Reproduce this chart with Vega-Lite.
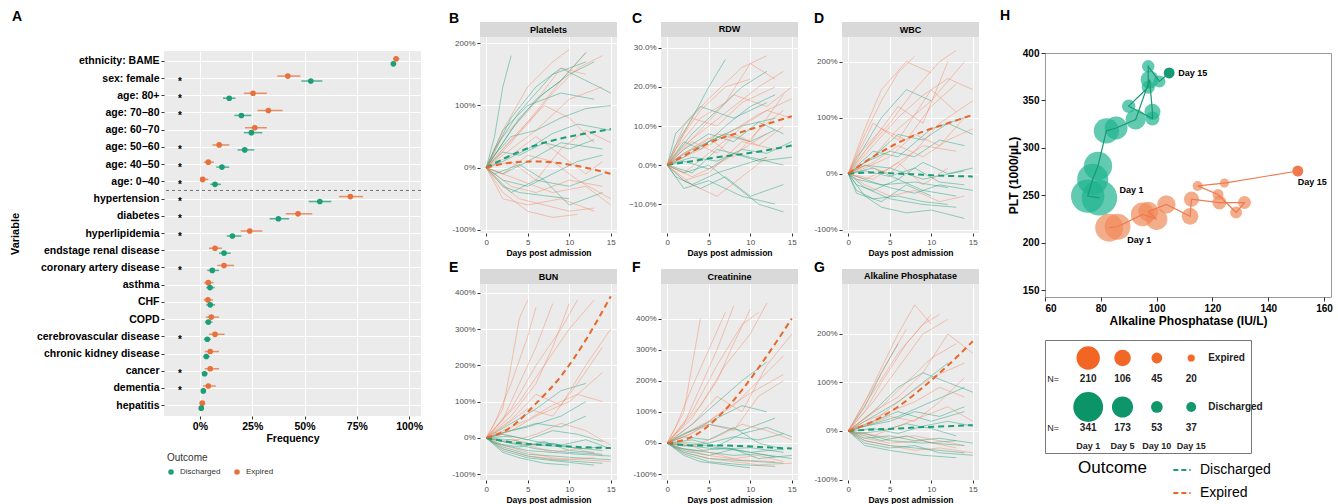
{
"$schema":"https://vega.github.io/schema/vega-lite/v6.json",
"background":"white",
"padding":{"left":9,"top":8,"right":0,"bottom":0},
"config":{
 "font":"Liberation Sans",
 "view":{"fill":"#ebebeb","stroke":null},
 "axis":{"domain":false,"gridColor":"#ffffff","gridWidth":1,"tickColor":"#333333","tickSize":3,"labelColor":"#4d4d4d","labelFontSize":8,"titleFontSize":8.5,"titleFontWeight":"bold","titleColor":"#000000","labelPadding":2,"titlePadding":2},
 "title":{"fontSize":14,"fontWeight":"bold","anchor":"start","frame":"group","offset":0,"baseline":"alphabetic","color":"#000000"}
},
"datasets":{
"freq":[
{"v":"ethnicity: BAME","o":"Expired","f":93.8,"lo":92.3,"hi":95.4,"s":0},{"v":"ethnicity: BAME","o":"Discharged","f":92.5,"lo":91.4,"hi":93.6,"s":0},
{"v":"sex: female","o":"Expired","f":42,"lo":37,"hi":48,"s":1},{"v":"sex: female","o":"Discharged","f":53,"lo":48.5,"hi":58.5,"s":1},
{"v":"age: 80+","o":"Expired","f":25.4,"lo":21,"hi":32,"s":1},{"v":"age: 80+","o":"Discharged","f":14,"lo":11,"hi":17,"s":1},
{"v":"age: 70−80","o":"Expired","f":32.7,"lo":27.5,"hi":39.5,"s":1},{"v":"age: 70−80","o":"Discharged","f":19.8,"lo":16.5,"hi":24.5,"s":1},
{"v":"age: 60−70","o":"Expired","f":26.2,"lo":21.5,"hi":32,"s":0},{"v":"age: 60−70","o":"Discharged","f":24.6,"lo":21,"hi":29.8,"s":0},
{"v":"age: 50−60","o":"Expired","f":9.2,"lo":6,"hi":14,"s":1},{"v":"age: 50−60","o":"Discharged","f":21.4,"lo":18,"hi":26,"s":1},
{"v":"age: 40−50","o":"Expired","f":4,"lo":2,"hi":6.7,"s":1},{"v":"age: 40−50","o":"Discharged","f":10.5,"lo":7.8,"hi":14,"s":1},
{"v":"age: 0−40","o":"Expired","f":1.3,"lo":0,"hi":4,"s":1},{"v":"age: 0−40","o":"Discharged","f":7.2,"lo":5,"hi":10,"s":1},
{"v":"hypertension","o":"Expired","f":71.9,"lo":66.5,"hi":78,"s":1},{"v":"hypertension","o":"Discharged","f":57.3,"lo":52,"hi":62.8,"s":1},
{"v":"diabetes","o":"Expired","f":46.9,"lo":41,"hi":53.7,"s":1},{"v":"diabetes","o":"Discharged","f":37.5,"lo":33.3,"hi":42.6,"s":1},
{"v":"hyperlipidemia","o":"Expired","f":23.8,"lo":19.5,"hi":29.8,"s":1},{"v":"hyperlipidemia","o":"Discharged","f":15.5,"lo":12.8,"hi":19.8,"s":1},
{"v":"endstage renal disease","o":"Expired","f":7.2,"lo":4.3,"hi":10.5,"s":0},{"v":"endstage renal disease","o":"Discharged","f":11.5,"lo":9.1,"hi":14.7,"s":0},
{"v":"coronary artery disease","o":"Expired","f":11.5,"lo":8.3,"hi":16.3,"s":1},{"v":"coronary artery disease","o":"Discharged","f":5.9,"lo":3.5,"hi":9.1,"s":1},
{"v":"asthma","o":"Expired","f":4,"lo":2,"hi":6.5,"s":0},{"v":"asthma","o":"Discharged","f":4.8,"lo":3,"hi":7,"s":0},
{"v":"CHF","o":"Expired","f":3.8,"lo":1.8,"hi":6.2,"s":0},{"v":"CHF","o":"Discharged","f":4.9,"lo":3,"hi":7.2,"s":0},
{"v":"COPD","o":"Expired","f":5.4,"lo":2.8,"hi":9.1,"s":0},{"v":"COPD","o":"Discharged","f":4,"lo":2.4,"hi":6,"s":0},
{"v":"cerebrovascular disease","o":"Expired","f":7.2,"lo":4.3,"hi":11.8,"s":1},{"v":"cerebrovascular disease","o":"Discharged","f":3.5,"lo":2,"hi":5.2,"s":1},
{"v":"chronic kidney disease","o":"Expired","f":4.9,"lo":2.3,"hi":9.1,"s":0},{"v":"chronic kidney disease","o":"Discharged","f":3,"lo":1.7,"hi":4.7,"s":0},
{"v":"cancer","o":"Expired","f":4.9,"lo":2.3,"hi":9.1,"s":1},{"v":"cancer","o":"Discharged","f":2.2,"lo":1.1,"hi":3.6,"s":1},
{"v":"dementia","o":"Expired","f":4,"lo":1.5,"hi":7.5,"s":1},{"v":"dementia","o":"Discharged","f":1.6,"lo":0.8,"hi":2.8,"s":1},
{"v":"hepatitis","o":"Expired","f":1.1,"lo":0,"hi":2.5,"s":0},{"v":"hepatitis","o":"Discharged","f":0.6,"lo":0,"hi":1.5,"s":0}
],
"sB":[
{"o":"D","i":1,"d":0,"v":0},{"o":"D","i":1,"d":2,"v":40},{"o":"D","i":1,"d":4,"v":80},{"o":"D","i":1,"d":7,"v":120},{"o":"D","i":1,"d":10,"v":150},{"o":"D","i":1,"d":13,"v":170},
{"o":"D","i":2,"d":0,"v":0},{"o":"D","i":2,"d":3,"v":60},{"o":"D","i":2,"d":6,"v":110},{"o":"D","i":2,"d":9,"v":140},{"o":"D","i":2,"d":12,"v":185},
{"o":"D","i":3,"d":0,"v":0},{"o":"D","i":3,"d":1,"v":20},{"o":"D","i":3,"d":3,"v":50},{"o":"D","i":3,"d":6,"v":60},{"o":"D","i":3,"d":9,"v":80},{"o":"D","i":3,"d":12,"v":95},{"o":"D","i":3,"d":15,"v":100},
{"o":"D","i":4,"d":0,"v":0},{"o":"D","i":4,"d":2,"v":-20},{"o":"D","i":4,"d":5,"v":-30},{"o":"D","i":4,"d":8,"v":-10},{"o":"D","i":4,"d":11,"v":10},{"o":"D","i":4,"d":14,"v":20},
{"o":"D","i":5,"d":0,"v":0},{"o":"D","i":5,"d":1,"v":50},{"o":"D","i":5,"d":2,"v":130},{"o":"D","i":5,"d":3,"v":180},
{"o":"D","i":6,"d":0,"v":0},{"o":"D","i":6,"d":2,"v":10},{"o":"D","i":6,"d":5,"v":30},{"o":"D","i":6,"d":8,"v":55},{"o":"D","i":6,"d":11,"v":70},{"o":"D","i":6,"d":15,"v":60},
{"o":"D","i":7,"d":0,"v":0},{"o":"D","i":7,"d":2,"v":-30},{"o":"D","i":7,"d":4,"v":-40},{"o":"D","i":7,"d":7,"v":-45},{"o":"D","i":7,"d":10,"v":-50},
{"o":"D","i":8,"d":0,"v":0},{"o":"D","i":8,"d":3,"v":80},{"o":"D","i":8,"d":6,"v":130},{"o":"D","i":8,"d":9,"v":160},{"o":"D","i":8,"d":12,"v":140},{"o":"D","i":8,"d":15,"v":120},
{"o":"D","i":9,"d":0,"v":0},{"o":"D","i":9,"d":2,"v":25},{"o":"D","i":9,"d":4,"v":20},{"o":"D","i":9,"d":7,"v":40},{"o":"D","i":9,"d":10,"v":30},{"o":"D","i":9,"d":13,"v":45},
{"o":"D","i":10,"d":0,"v":0},{"o":"D","i":10,"d":1,"v":-10},{"o":"D","i":10,"d":4,"v":5},{"o":"D","i":10,"d":7,"v":-20},{"o":"D","i":10,"d":10,"v":-60},{"o":"D","i":10,"d":14,"v":-40},
{"o":"D","i":11,"d":0,"v":0},{"o":"D","i":11,"d":2,"v":60},{"o":"D","i":11,"d":5,"v":100},{"o":"D","i":11,"d":9,"v":120},{"o":"D","i":11,"d":13,"v":110},
{"o":"D","i":12,"d":0,"v":0},{"o":"D","i":12,"d":1,"v":30},{"o":"D","i":12,"d":4,"v":90},{"o":"D","i":12,"d":8,"v":150},{"o":"D","i":12,"d":12,"v":170},
{"o":"D","i":13,"d":0,"v":0},{"o":"D","i":13,"d":2,"v":-10},{"o":"D","i":13,"d":5,"v":10},{"o":"D","i":13,"d":9,"v":40},{"o":"D","i":13,"d":14,"v":30},
{"o":"D","i":14,"d":0,"v":0},{"o":"D","i":14,"d":3,"v":-40},{"o":"D","i":14,"d":6,"v":-20},{"o":"D","i":14,"d":10,"v":-30},{"o":"D","i":14,"d":14,"v":-10},
{"o":"E","i":1,"d":0,"v":0},{"o":"E","i":1,"d":2,"v":30},{"o":"E","i":1,"d":5,"v":70},{"o":"E","i":1,"d":8,"v":120},{"o":"E","i":1,"d":11,"v":160},{"o":"E","i":1,"d":14,"v":180},
{"o":"E","i":2,"d":0,"v":0},{"o":"E","i":2,"d":2,"v":-30},{"o":"E","i":2,"d":4,"v":-50},{"o":"E","i":2,"d":7,"v":-60},{"o":"E","i":2,"d":10,"v":-70},{"o":"E","i":2,"d":13,"v":-65},
{"o":"E","i":3,"d":0,"v":0},{"o":"E","i":3,"d":3,"v":40},{"o":"E","i":3,"d":6,"v":90},{"o":"E","i":3,"d":9,"v":140},{"o":"E","i":3,"d":12,"v":185},
{"o":"E","i":4,"d":0,"v":0},{"o":"E","i":4,"d":2,"v":-10},{"o":"E","i":4,"d":5,"v":20},{"o":"E","i":4,"d":8,"v":10},{"o":"E","i":4,"d":11,"v":-20},{"o":"E","i":4,"d":15,"v":-50},
{"o":"E","i":5,"d":0,"v":0},{"o":"E","i":5,"d":1,"v":15},{"o":"E","i":5,"d":4,"v":60},{"o":"E","i":5,"d":7,"v":100},{"o":"E","i":5,"d":10,"v":80},{"o":"E","i":5,"d":13,"v":40},
{"o":"E","i":6,"d":0,"v":0},{"o":"E","i":6,"d":2,"v":-40},{"o":"E","i":6,"d":5,"v":-70},{"o":"E","i":6,"d":8,"v":-80},{"o":"E","i":6,"d":11,"v":-75},
{"o":"E","i":7,"d":0,"v":0},{"o":"E","i":7,"d":3,"v":10},{"o":"E","i":7,"d":6,"v":-20},{"o":"E","i":7,"d":9,"v":30},{"o":"E","i":7,"d":12,"v":60},{"o":"E","i":7,"d":15,"v":40},
{"o":"E","i":8,"d":0,"v":0},{"o":"E","i":8,"d":2,"v":60},{"o":"E","i":8,"d":5,"v":130},{"o":"E","i":8,"d":8,"v":170},{"o":"E","i":8,"d":10,"v":190},
{"o":"E","i":9,"d":0,"v":0},{"o":"E","i":9,"d":4,"v":-20},{"o":"E","i":9,"d":8,"v":-40},{"o":"E","i":9,"d":12,"v":-30},{"o":"E","i":9,"d":15,"v":-60},
{"o":"E","i":10,"d":0,"v":0},{"o":"E","i":10,"d":3,"v":20},{"o":"E","i":10,"d":6,"v":50},{"o":"E","i":10,"d":9,"v":20},{"o":"E","i":10,"d":12,"v":-10},{"o":"E","i":10,"d":14,"v":10},
{"o":"E","i":11,"d":0,"v":0},{"o":"E","i":11,"d":3,"v":-30},{"o":"E","i":11,"d":6,"v":-40},{"o":"E","i":11,"d":10,"v":-20},{"o":"E","i":11,"d":14,"v":-30},
{"o":"E","i":12,"d":0,"v":0},{"o":"E","i":12,"d":2,"v":50},{"o":"E","i":12,"d":5,"v":90},{"o":"E","i":12,"d":9,"v":160},{"o":"E","i":12,"d":12,"v":150},
{"o":"E","i":13,"d":0,"v":0},{"o":"E","i":13,"d":3,"v":30},{"o":"E","i":13,"d":6,"v":60},{"o":"E","i":13,"d":10,"v":110},{"o":"E","i":13,"d":14,"v":130},
{"o":"E","i":14,"d":0,"v":0},{"o":"E","i":14,"d":2,"v":-50},{"o":"E","i":14,"d":5,"v":-60},{"o":"E","i":14,"d":9,"v":-50},{"o":"E","i":14,"d":13,"v":-70}
],
"sC":[
{"o":"D","i":1,"d":0,"v":0},{"o":"D","i":1,"d":2,"v":3},{"o":"D","i":1,"d":4,"v":5},{"o":"D","i":1,"d":7,"v":8},{"o":"D","i":1,"d":10,"v":6},{"o":"D","i":1,"d":13,"v":9},
{"o":"D","i":2,"d":0,"v":0},{"o":"D","i":2,"d":2,"v":-4},{"o":"D","i":2,"d":4,"v":-6},{"o":"D","i":2,"d":7,"v":-3},{"o":"D","i":2,"d":10,"v":-8},{"o":"D","i":2,"d":14,"v":-5},
{"o":"D","i":3,"d":0,"v":0},{"o":"D","i":3,"d":1,"v":5},{"o":"D","i":3,"d":3,"v":12},{"o":"D","i":3,"d":5,"v":20},{"o":"D","i":3,"d":7,"v":27},
{"o":"D","i":4,"d":0,"v":0},{"o":"D","i":4,"d":3,"v":2},{"o":"D","i":4,"d":6,"v":1},{"o":"D","i":4,"d":9,"v":4},{"o":"D","i":4,"d":12,"v":3},{"o":"D","i":4,"d":15,"v":6},
{"o":"D","i":5,"d":0,"v":0},{"o":"D","i":5,"d":2,"v":-2},{"o":"D","i":5,"d":5,"v":0},{"o":"D","i":5,"d":8,"v":-5},{"o":"D","i":5,"d":11,"v":-10},{"o":"D","i":5,"d":14,"v":-12},
{"o":"D","i":6,"d":0,"v":0},{"o":"D","i":6,"d":2,"v":6},{"o":"D","i":6,"d":4,"v":4},{"o":"D","i":6,"d":7,"v":10},{"o":"D","i":6,"d":10,"v":15},{"o":"D","i":6,"d":13,"v":18},
{"o":"D","i":7,"d":0,"v":0},{"o":"D","i":7,"d":1,"v":-3},{"o":"D","i":7,"d":3,"v":-5},{"o":"D","i":7,"d":6,"v":-2},{"o":"D","i":7,"d":9,"v":0},{"o":"D","i":7,"d":12,"v":2},
{"o":"D","i":8,"d":0,"v":0},{"o":"D","i":8,"d":3,"v":8},{"o":"D","i":8,"d":6,"v":14},{"o":"D","i":8,"d":9,"v":20},{"o":"D","i":8,"d":12,"v":24},
{"o":"D","i":9,"d":0,"v":0},{"o":"D","i":9,"d":2,"v":1},{"o":"D","i":9,"d":5,"v":-1},{"o":"D","i":9,"d":8,"v":3},{"o":"D","i":9,"d":11,"v":1},{"o":"D","i":9,"d":15,"v":2},
{"o":"D","i":10,"d":0,"v":0},{"o":"D","i":10,"d":2,"v":4},{"o":"D","i":10,"d":5,"v":8},{"o":"D","i":10,"d":8,"v":6},{"o":"D","i":10,"d":11,"v":11},{"o":"D","i":10,"d":14,"v":8},
{"o":"D","i":11,"d":0,"v":0},{"o":"D","i":11,"d":2,"v":-6},{"o":"D","i":11,"d":5,"v":-4},{"o":"D","i":11,"d":9,"v":-8},{"o":"D","i":11,"d":13,"v":-10},
{"o":"D","i":12,"d":0,"v":0},{"o":"D","i":12,"d":2,"v":2},{"o":"D","i":12,"d":5,"v":6},{"o":"D","i":12,"d":9,"v":10},{"o":"D","i":12,"d":13,"v":12},
{"o":"D","i":13,"d":0,"v":0},{"o":"D","i":13,"d":1,"v":8},{"o":"D","i":13,"d":4,"v":15},{"o":"D","i":13,"d":8,"v":12},{"o":"D","i":13,"d":12,"v":16},
{"o":"D","i":14,"d":0,"v":0},{"o":"D","i":14,"d":3,"v":-2},{"o":"D","i":14,"d":6,"v":4},{"o":"D","i":14,"d":10,"v":2},{"o":"D","i":14,"d":14,"v":0},
{"o":"E","i":1,"d":0,"v":0},{"o":"E","i":1,"d":2,"v":5},{"o":"E","i":1,"d":5,"v":10},{"o":"E","i":1,"d":8,"v":15},{"o":"E","i":1,"d":11,"v":20},{"o":"E","i":1,"d":14,"v":24},
{"o":"E","i":2,"d":0,"v":0},{"o":"E","i":2,"d":3,"v":-3},{"o":"E","i":2,"d":6,"v":0},{"o":"E","i":2,"d":9,"v":4},{"o":"E","i":2,"d":12,"v":8},
{"o":"E","i":3,"d":0,"v":0},{"o":"E","i":3,"d":2,"v":8},{"o":"E","i":3,"d":4,"v":14},{"o":"E","i":3,"d":7,"v":20},{"o":"E","i":3,"d":10,"v":22},
{"o":"E","i":4,"d":0,"v":0},{"o":"E","i":4,"d":2,"v":2},{"o":"E","i":4,"d":5,"v":5},{"o":"E","i":4,"d":8,"v":9},{"o":"E","i":4,"d":11,"v":13},{"o":"E","i":4,"d":15,"v":17},
{"o":"E","i":5,"d":0,"v":0},{"o":"E","i":5,"d":3,"v":-5},{"o":"E","i":5,"d":6,"v":-8},{"o":"E","i":5,"d":9,"v":-3},{"o":"E","i":5,"d":12,"v":2},
{"o":"E","i":6,"d":0,"v":0},{"o":"E","i":6,"d":1,"v":4},{"o":"E","i":6,"d":4,"v":12},{"o":"E","i":6,"d":7,"v":16},{"o":"E","i":6,"d":10,"v":26},{"o":"E","i":6,"d":13,"v":22},
{"o":"E","i":7,"d":0,"v":0},{"o":"E","i":7,"d":3,"v":6},{"o":"E","i":7,"d":6,"v":3},{"o":"E","i":7,"d":9,"v":10},{"o":"E","i":7,"d":12,"v":14},{"o":"E","i":7,"d":15,"v":12},
{"o":"E","i":8,"d":0,"v":0},{"o":"E","i":8,"d":2,"v":-2},{"o":"E","i":8,"d":5,"v":3},{"o":"E","i":8,"d":8,"v":8},{"o":"E","i":8,"d":11,"v":5},{"o":"E","i":8,"d":14,"v":10},
{"o":"E","i":9,"d":0,"v":0},{"o":"E","i":9,"d":4,"v":9},{"o":"E","i":9,"d":8,"v":18},{"o":"E","i":9,"d":12,"v":15},{"o":"E","i":9,"d":15,"v":20},
{"o":"E","i":10,"d":0,"v":0},{"o":"E","i":10,"d":2,"v":3},{"o":"E","i":10,"d":5,"v":7},{"o":"E","i":10,"d":8,"v":2},{"o":"E","i":10,"d":11,"v":9},{"o":"E","i":10,"d":14,"v":14},
{"o":"E","i":11,"d":0,"v":0},{"o":"E","i":11,"d":2,"v":10},{"o":"E","i":11,"d":5,"v":17},{"o":"E","i":11,"d":9,"v":25},{"o":"E","i":11,"d":12,"v":28},
{"o":"E","i":12,"d":0,"v":0},{"o":"E","i":12,"d":3,"v":4},{"o":"E","i":12,"d":6,"v":8},{"o":"E","i":12,"d":10,"v":6},{"o":"E","i":12,"d":14,"v":18},
{"o":"E","i":13,"d":0,"v":0},{"o":"E","i":13,"d":2,"v":-4},{"o":"E","i":13,"d":5,"v":-2},{"o":"E","i":13,"d":9,"v":6},{"o":"E","i":13,"d":13,"v":4},
{"o":"E","i":14,"d":0,"v":0},{"o":"E","i":14,"d":3,"v":12},{"o":"E","i":14,"d":6,"v":10},{"o":"E","i":14,"d":9,"v":16},{"o":"E","i":14,"d":13,"v":20}
],
"sD":[
{"o":"D","i":1,"d":0,"v":0},{"o":"D","i":1,"d":1,"v":-30},{"o":"D","i":1,"d":3,"v":-45},{"o":"D","i":1,"d":6,"v":-40},{"o":"D","i":1,"d":9,"v":-50},{"o":"D","i":1,"d":12,"v":-55},
{"o":"D","i":2,"d":0,"v":0},{"o":"D","i":2,"d":2,"v":20},{"o":"D","i":2,"d":5,"v":40},{"o":"D","i":2,"d":8,"v":30},{"o":"D","i":2,"d":11,"v":60},{"o":"D","i":2,"d":14,"v":50},
{"o":"D","i":3,"d":0,"v":0},{"o":"D","i":3,"d":1,"v":-20},{"o":"D","i":3,"d":3,"v":-30},{"o":"D","i":3,"d":6,"v":-10},{"o":"D","i":3,"d":9,"v":-30},{"o":"D","i":3,"d":13,"v":-40},
{"o":"D","i":4,"d":0,"v":0},{"o":"D","i":4,"d":2,"v":50},{"o":"D","i":4,"d":4,"v":100},{"o":"D","i":4,"d":7,"v":150},{"o":"D","i":4,"d":10,"v":130},
{"o":"D","i":5,"d":0,"v":0},{"o":"D","i":5,"d":2,"v":-40},{"o":"D","i":5,"d":4,"v":-60},{"o":"D","i":5,"d":7,"v":-70},{"o":"D","i":5,"d":10,"v":-65},{"o":"D","i":5,"d":14,"v":-80},
{"o":"D","i":6,"d":0,"v":0},{"o":"D","i":6,"d":3,"v":10},{"o":"D","i":6,"d":6,"v":-10},{"o":"D","i":6,"d":9,"v":20},{"o":"D","i":6,"d":12,"v":0},{"o":"D","i":6,"d":15,"v":10},
{"o":"D","i":7,"d":0,"v":0},{"o":"D","i":7,"d":2,"v":-10},{"o":"D","i":7,"d":5,"v":-25},{"o":"D","i":7,"d":8,"v":-35},{"o":"D","i":7,"d":11,"v":-20},{"o":"D","i":7,"d":15,"v":-30},
{"o":"D","i":8,"d":0,"v":0},{"o":"D","i":8,"d":3,"v":30},{"o":"D","i":8,"d":6,"v":70},{"o":"D","i":8,"d":9,"v":60},{"o":"D","i":8,"d":12,"v":90},{"o":"D","i":8,"d":15,"v":70},
{"o":"D","i":9,"d":0,"v":0},{"o":"D","i":9,"d":1,"v":-35},{"o":"D","i":9,"d":4,"v":-50},{"o":"D","i":9,"d":7,"v":-20},{"o":"D","i":9,"d":10,"v":-40},
{"o":"D","i":10,"d":0,"v":0},{"o":"D","i":10,"d":2,"v":5},{"o":"D","i":10,"d":5,"v":-5},{"o":"D","i":10,"d":8,"v":10},{"o":"D","i":10,"d":11,"v":-15},{"o":"D","i":10,"d":14,"v":-20},
{"o":"D","i":11,"d":0,"v":0},{"o":"D","i":11,"d":2,"v":-25},{"o":"D","i":11,"d":5,"v":-45},{"o":"D","i":11,"d":9,"v":-55},{"o":"D","i":11,"d":13,"v":-60},
{"o":"D","i":12,"d":0,"v":0},{"o":"D","i":12,"d":3,"v":40},{"o":"D","i":12,"d":6,"v":30},{"o":"D","i":12,"d":10,"v":80},{"o":"D","i":12,"d":14,"v":100},
{"o":"D","i":13,"d":0,"v":0},{"o":"D","i":13,"d":1,"v":-10},{"o":"D","i":13,"d":4,"v":-20},{"o":"D","i":13,"d":8,"v":-15},{"o":"D","i":13,"d":12,"v":-25},
{"o":"D","i":14,"d":0,"v":0},{"o":"D","i":14,"d":2,"v":15},{"o":"D","i":14,"d":5,"v":10},{"o":"D","i":14,"d":9,"v":-10},{"o":"D","i":14,"d":14,"v":5},
{"o":"E","i":1,"d":0,"v":0},{"o":"E","i":1,"d":2,"v":40},{"o":"E","i":1,"d":5,"v":90},{"o":"E","i":1,"d":8,"v":150},{"o":"E","i":1,"d":11,"v":200},{"o":"E","i":1,"d":13,"v":220},
{"o":"E","i":2,"d":0,"v":0},{"o":"E","i":2,"d":3,"v":20},{"o":"E","i":2,"d":6,"v":50},{"o":"E","i":2,"d":9,"v":30},{"o":"E","i":2,"d":12,"v":60},{"o":"E","i":2,"d":15,"v":80},
{"o":"E","i":3,"d":0,"v":0},{"o":"E","i":3,"d":2,"v":70},{"o":"E","i":3,"d":4,"v":130},{"o":"E","i":3,"d":6,"v":180},{"o":"E","i":3,"d":8,"v":210},
{"o":"E","i":4,"d":0,"v":0},{"o":"E","i":4,"d":2,"v":-20},{"o":"E","i":4,"d":5,"v":-40},{"o":"E","i":4,"d":8,"v":-30},{"o":"E","i":4,"d":11,"v":-50},{"o":"E","i":4,"d":14,"v":-40},
{"o":"E","i":5,"d":0,"v":0},{"o":"E","i":5,"d":3,"v":50},{"o":"E","i":5,"d":6,"v":100},{"o":"E","i":5,"d":9,"v":140},{"o":"E","i":5,"d":12,"v":170},{"o":"E","i":5,"d":15,"v":150},
{"o":"E","i":6,"d":0,"v":0},{"o":"E","i":6,"d":2,"v":10},{"o":"E","i":6,"d":5,"v":30},{"o":"E","i":6,"d":8,"v":70},{"o":"E","i":6,"d":11,"v":50},{"o":"E","i":6,"d":14,"v":100},
{"o":"E","i":7,"d":0,"v":0},{"o":"E","i":7,"d":3,"v":-10},{"o":"E","i":7,"d":6,"v":20},{"o":"E","i":7,"d":9,"v":-20},{"o":"E","i":7,"d":12,"v":10},
{"o":"E","i":8,"d":0,"v":0},{"o":"E","i":8,"d":1,"v":30},{"o":"E","i":8,"d":4,"v":80},{"o":"E","i":8,"d":7,"v":60},{"o":"E","i":8,"d":10,"v":120},{"o":"E","i":8,"d":13,"v":160},
{"o":"E","i":9,"d":0,"v":0},{"o":"E","i":9,"d":2,"v":15},{"o":"E","i":9,"d":5,"v":0},{"o":"E","i":9,"d":8,"v":40},{"o":"E","i":9,"d":11,"v":90},{"o":"E","i":9,"d":15,"v":130},
{"o":"E","i":10,"d":0,"v":0},{"o":"E","i":10,"d":3,"v":60},{"o":"E","i":10,"d":6,"v":120},{"o":"E","i":10,"d":9,"v":90},{"o":"E","i":10,"d":12,"v":200},
{"o":"E","i":11,"d":0,"v":0},{"o":"E","i":11,"d":2,"v":80},{"o":"E","i":11,"d":4,"v":150},{"o":"E","i":11,"d":7,"v":200},{"o":"E","i":11,"d":10,"v":180},
{"o":"E","i":12,"d":0,"v":0},{"o":"E","i":12,"d":3,"v":30},{"o":"E","i":12,"d":6,"v":80},{"o":"E","i":12,"d":10,"v":130},{"o":"E","i":12,"d":14,"v":200},
{"o":"E","i":13,"d":0,"v":0},{"o":"E","i":13,"d":2,"v":-10},{"o":"E","i":13,"d":5,"v":10},{"o":"E","i":13,"d":9,"v":50},{"o":"E","i":13,"d":13,"v":40},
{"o":"E","i":14,"d":0,"v":0},{"o":"E","i":14,"d":3,"v":90},{"o":"E","i":14,"d":6,"v":60},{"o":"E","i":14,"d":10,"v":150},{"o":"E","i":14,"d":13,"v":110}
],
"sE":[
{"o":"D","i":1,"d":0,"v":0},{"o":"D","i":1,"d":2,"v":-30},{"o":"D","i":1,"d":5,"v":-50},{"o":"D","i":1,"d":8,"v":-60},{"o":"D","i":1,"d":11,"v":-65},{"o":"D","i":1,"d":14,"v":-70},
{"o":"D","i":2,"d":0,"v":0},{"o":"D","i":2,"d":2,"v":-10},{"o":"D","i":2,"d":5,"v":-20},{"o":"D","i":2,"d":8,"v":-15},{"o":"D","i":2,"d":11,"v":-30},{"o":"D","i":2,"d":14,"v":-25},
{"o":"D","i":3,"d":0,"v":0},{"o":"D","i":3,"d":3,"v":20},{"o":"D","i":3,"d":6,"v":40},{"o":"D","i":3,"d":9,"v":30},{"o":"D","i":3,"d":12,"v":60},
{"o":"D","i":4,"d":0,"v":0},{"o":"D","i":4,"d":2,"v":-40},{"o":"D","i":4,"d":4,"v":-55},{"o":"D","i":4,"d":7,"v":-70},{"o":"D","i":4,"d":10,"v":-75},
{"o":"D","i":5,"d":0,"v":0},{"o":"D","i":5,"d":3,"v":5},{"o":"D","i":5,"d":6,"v":-10},{"o":"D","i":5,"d":9,"v":-20},{"o":"D","i":5,"d":12,"v":-5},{"o":"D","i":5,"d":15,"v":-30},
{"o":"D","i":6,"d":0,"v":0},{"o":"D","i":6,"d":2,"v":-20},{"o":"D","i":6,"d":5,"v":-35},{"o":"D","i":6,"d":8,"v":-40},{"o":"D","i":6,"d":11,"v":-45},{"o":"D","i":6,"d":15,"v":-50},
{"o":"D","i":7,"d":0,"v":0},{"o":"D","i":7,"d":3,"v":40},{"o":"D","i":7,"d":6,"v":80},{"o":"D","i":7,"d":9,"v":130},{"o":"D","i":7,"d":12,"v":150},
{"o":"D","i":8,"d":0,"v":0},{"o":"D","i":8,"d":1,"v":-15},{"o":"D","i":8,"d":4,"v":-25},{"o":"D","i":8,"d":7,"v":-10},{"o":"D","i":8,"d":10,"v":-35},{"o":"D","i":8,"d":13,"v":-40},
{"o":"D","i":9,"d":0,"v":0},{"o":"D","i":9,"d":2,"v":10},{"o":"D","i":9,"d":5,"v":-5},{"o":"D","i":9,"d":8,"v":20},{"o":"D","i":9,"d":11,"v":10},{"o":"D","i":9,"d":14,"v":-10},
{"o":"D","i":10,"d":0,"v":0},{"o":"D","i":10,"d":2,"v":-25},{"o":"D","i":10,"d":5,"v":-45},{"o":"D","i":10,"d":8,"v":-50},{"o":"D","i":10,"d":11,"v":-55},{"o":"D","i":10,"d":15,"v":-60},
{"o":"D","i":11,"d":0,"v":0},{"o":"D","i":11,"d":2,"v":-35},{"o":"D","i":11,"d":5,"v":-55},{"o":"D","i":11,"d":9,"v":-65},{"o":"D","i":11,"d":13,"v":-75},
{"o":"D","i":12,"d":0,"v":0},{"o":"D","i":12,"d":3,"v":-15},{"o":"D","i":12,"d":6,"v":-30},{"o":"D","i":12,"d":10,"v":-40},{"o":"D","i":12,"d":14,"v":-45},
{"o":"D","i":13,"d":0,"v":0},{"o":"D","i":13,"d":2,"v":15},{"o":"D","i":13,"d":5,"v":30},{"o":"D","i":13,"d":9,"v":60},{"o":"D","i":13,"d":12,"v":100},
{"o":"D","i":14,"d":0,"v":0},{"o":"D","i":14,"d":3,"v":-5},{"o":"D","i":14,"d":6,"v":-20},{"o":"D","i":14,"d":10,"v":-25},{"o":"D","i":14,"d":14,"v":-35},
{"o":"E","i":1,"d":0,"v":0},{"o":"E","i":1,"d":2,"v":80},{"o":"E","i":1,"d":3,"v":200},{"o":"E","i":1,"d":4,"v":330},{"o":"E","i":1,"d":5,"v":380},
{"o":"E","i":2,"d":0,"v":0},{"o":"E","i":2,"d":2,"v":-20},{"o":"E","i":2,"d":5,"v":-40},{"o":"E","i":2,"d":8,"v":-55},{"o":"E","i":2,"d":11,"v":-60},{"o":"E","i":2,"d":15,"v":-65},
{"o":"E","i":3,"d":0,"v":0},{"o":"E","i":3,"d":3,"v":60},{"o":"E","i":3,"d":6,"v":150},{"o":"E","i":3,"d":8,"v":250},{"o":"E","i":3,"d":10,"v":370},
{"o":"E","i":4,"d":0,"v":0},{"o":"E","i":4,"d":2,"v":20},{"o":"E","i":4,"d":5,"v":50},{"o":"E","i":4,"d":8,"v":90},{"o":"E","i":4,"d":11,"v":120},{"o":"E","i":4,"d":14,"v":100},
{"o":"E","i":5,"d":0,"v":0},{"o":"E","i":5,"d":1,"v":40},{"o":"E","i":5,"d":3,"v":150},{"o":"E","i":5,"d":5,"v":280},{"o":"E","i":5,"d":6,"v":360},
{"o":"E","i":6,"d":0,"v":0},{"o":"E","i":6,"d":3,"v":-10},{"o":"E","i":6,"d":6,"v":10},{"o":"E","i":6,"d":9,"v":40},{"o":"E","i":6,"d":12,"v":20},{"o":"E","i":6,"d":15,"v":-20},
{"o":"E","i":7,"d":0,"v":0},{"o":"E","i":7,"d":4,"v":100},{"o":"E","i":7,"d":7,"v":200},{"o":"E","i":7,"d":10,"v":300},{"o":"E","i":7,"d":13,"v":380},
{"o":"E","i":8,"d":0,"v":0},{"o":"E","i":8,"d":2,"v":30},{"o":"E","i":8,"d":5,"v":80},{"o":"E","i":8,"d":8,"v":60},{"o":"E","i":8,"d":11,"v":150},{"o":"E","i":8,"d":14,"v":250},
{"o":"E","i":9,"d":0,"v":0},{"o":"E","i":9,"d":2,"v":10},{"o":"E","i":9,"d":5,"v":-20},{"o":"E","i":9,"d":8,"v":-40},{"o":"E","i":9,"d":11,"v":-30},{"o":"E","i":9,"d":14,"v":-50},
{"o":"E","i":10,"d":0,"v":0},{"o":"E","i":10,"d":3,"v":50},{"o":"E","i":10,"d":6,"v":120},{"o":"E","i":10,"d":9,"v":90},{"o":"E","i":10,"d":12,"v":200},{"o":"E","i":10,"d":15,"v":300},
{"o":"E","i":11,"d":0,"v":0},{"o":"E","i":11,"d":2,"v":50},{"o":"E","i":11,"d":4,"v":150},{"o":"E","i":11,"d":6,"v":250},{"o":"E","i":11,"d":8,"v":370},
{"o":"E","i":12,"d":0,"v":0},{"o":"E","i":12,"d":3,"v":20},{"o":"E","i":12,"d":6,"v":60},{"o":"E","i":12,"d":10,"v":100},{"o":"E","i":12,"d":14,"v":180},
{"o":"E","i":13,"d":0,"v":0},{"o":"E","i":13,"d":2,"v":-30},{"o":"E","i":13,"d":5,"v":-50},{"o":"E","i":13,"d":9,"v":-60},{"o":"E","i":13,"d":13,"v":-55},
{"o":"E","i":14,"d":0,"v":0},{"o":"E","i":14,"d":3,"v":80},{"o":"E","i":14,"d":6,"v":200},{"o":"E","i":14,"d":9,"v":300},{"o":"E","i":14,"d":11,"v":380}
],
"sF":[
{"o":"D","i":1,"d":0,"v":0},{"o":"D","i":1,"d":2,"v":-30},{"o":"D","i":1,"d":5,"v":-50},{"o":"D","i":1,"d":8,"v":-55},{"o":"D","i":1,"d":11,"v":-60},{"o":"D","i":1,"d":14,"v":-65},
{"o":"D","i":2,"d":0,"v":0},{"o":"D","i":2,"d":2,"v":-10},{"o":"D","i":2,"d":5,"v":0},{"o":"D","i":2,"d":8,"v":20},{"o":"D","i":2,"d":11,"v":10},{"o":"D","i":2,"d":14,"v":30},
{"o":"D","i":3,"d":0,"v":0},{"o":"D","i":3,"d":3,"v":40},{"o":"D","i":3,"d":6,"v":80},{"o":"D","i":3,"d":9,"v":120},{"o":"D","i":3,"d":12,"v":100},
{"o":"D","i":4,"d":0,"v":0},{"o":"D","i":4,"d":2,"v":-40},{"o":"D","i":4,"d":4,"v":-60},{"o":"D","i":4,"d":7,"v":-70},{"o":"D","i":4,"d":10,"v":-80},
{"o":"D","i":5,"d":0,"v":0},{"o":"D","i":5,"d":3,"v":10},{"o":"D","i":5,"d":6,"v":-10},{"o":"D","i":5,"d":9,"v":30},{"o":"D","i":5,"d":12,"v":50},{"o":"D","i":5,"d":15,"v":20},
{"o":"D","i":6,"d":0,"v":0},{"o":"D","i":6,"d":2,"v":-20},{"o":"D","i":6,"d":5,"v":-30},{"o":"D","i":6,"d":8,"v":-40},{"o":"D","i":6,"d":11,"v":-35},{"o":"D","i":6,"d":15,"v":-50},
{"o":"D","i":7,"d":0,"v":0},{"o":"D","i":7,"d":3,"v":60},{"o":"D","i":7,"d":6,"v":130},{"o":"D","i":7,"d":9,"v":200},{"o":"D","i":7,"d":12,"v":260},
{"o":"D","i":8,"d":0,"v":0},{"o":"D","i":8,"d":1,"v":-15},{"o":"D","i":8,"d":4,"v":-25},{"o":"D","i":8,"d":7,"v":-15},{"o":"D","i":8,"d":10,"v":-30},{"o":"D","i":8,"d":13,"v":-45},
{"o":"D","i":9,"d":0,"v":0},{"o":"D","i":9,"d":2,"v":20},{"o":"D","i":9,"d":5,"v":10},{"o":"D","i":9,"d":8,"v":50},{"o":"D","i":9,"d":11,"v":0},{"o":"D","i":9,"d":14,"v":-20},
{"o":"D","i":10,"d":0,"v":0},{"o":"D","i":10,"d":2,"v":-25},{"o":"D","i":10,"d":5,"v":-40},{"o":"D","i":10,"d":8,"v":-20},{"o":"D","i":10,"d":11,"v":-50},{"o":"D","i":10,"d":15,"v":-40},
{"o":"D","i":11,"d":0,"v":0},{"o":"D","i":11,"d":2,"v":-35},{"o":"D","i":11,"d":5,"v":-60},{"o":"D","i":11,"d":9,"v":-70},{"o":"D","i":11,"d":13,"v":-75},
{"o":"D","i":12,"d":0,"v":0},{"o":"D","i":12,"d":3,"v":-10},{"o":"D","i":12,"d":6,"v":-20},{"o":"D","i":12,"d":10,"v":-15},{"o":"D","i":12,"d":14,"v":-30},
{"o":"D","i":13,"d":0,"v":0},{"o":"D","i":13,"d":2,"v":30},{"o":"D","i":13,"d":5,"v":60},{"o":"D","i":13,"d":9,"v":40},{"o":"D","i":13,"d":13,"v":80},
{"o":"D","i":14,"d":0,"v":0},{"o":"D","i":14,"d":3,"v":0},{"o":"D","i":14,"d":6,"v":-15},{"o":"D","i":14,"d":10,"v":-30},{"o":"D","i":14,"d":14,"v":-20},
{"o":"E","i":1,"d":0,"v":0},{"o":"E","i":1,"d":2,"v":100},{"o":"E","i":1,"d":3,"v":250},{"o":"E","i":1,"d":4,"v":400},
{"o":"E","i":2,"d":0,"v":0},{"o":"E","i":2,"d":2,"v":-30},{"o":"E","i":2,"d":5,"v":-50},{"o":"E","i":2,"d":8,"v":-60},{"o":"E","i":2,"d":11,"v":-70},{"o":"E","i":2,"d":15,"v":-65},
{"o":"E","i":3,"d":0,"v":0},{"o":"E","i":3,"d":3,"v":80},{"o":"E","i":3,"d":6,"v":200},{"o":"E","i":3,"d":8,"v":320},{"o":"E","i":3,"d":10,"v":430},
{"o":"E","i":4,"d":0,"v":0},{"o":"E","i":4,"d":2,"v":30},{"o":"E","i":4,"d":5,"v":70},{"o":"E","i":4,"d":8,"v":120},{"o":"E","i":4,"d":11,"v":200},{"o":"E","i":4,"d":14,"v":280},
{"o":"E","i":5,"d":0,"v":0},{"o":"E","i":5,"d":1,"v":50},{"o":"E","i":5,"d":3,"v":180},{"o":"E","i":5,"d":5,"v":300},{"o":"E","i":5,"d":7,"v":420},
{"o":"E","i":6,"d":0,"v":0},{"o":"E","i":6,"d":3,"v":-10},{"o":"E","i":6,"d":6,"v":20},{"o":"E","i":6,"d":9,"v":60},{"o":"E","i":6,"d":12,"v":40},{"o":"E","i":6,"d":15,"v":10},
{"o":"E","i":7,"d":0,"v":0},{"o":"E","i":7,"d":4,"v":120},{"o":"E","i":7,"d":7,"v":250},{"o":"E","i":7,"d":10,"v":350},{"o":"E","i":7,"d":12,"v":450},
{"o":"E","i":8,"d":0,"v":0},{"o":"E","i":8,"d":2,"v":20},{"o":"E","i":8,"d":5,"v":60},{"o":"E","i":8,"d":8,"v":40},{"o":"E","i":8,"d":11,"v":150},{"o":"E","i":8,"d":14,"v":200},
{"o":"E","i":9,"d":0,"v":0},{"o":"E","i":9,"d":2,"v":0},{"o":"E","i":9,"d":5,"v":-30},{"o":"E","i":9,"d":8,"v":-50},{"o":"E","i":9,"d":11,"v":-40},{"o":"E","i":9,"d":14,"v":-60},
{"o":"E","i":10,"d":0,"v":0},{"o":"E","i":10,"d":3,"v":60},{"o":"E","i":10,"d":6,"v":150},{"o":"E","i":10,"d":9,"v":100},{"o":"E","i":10,"d":12,"v":250},{"o":"E","i":10,"d":15,"v":350},
{"o":"E","i":11,"d":0,"v":0},{"o":"E","i":11,"d":2,"v":60},{"o":"E","i":11,"d":4,"v":180},{"o":"E","i":11,"d":6,"v":300},{"o":"E","i":11,"d":8,"v":440},
{"o":"E","i":12,"d":0,"v":0},{"o":"E","i":12,"d":3,"v":30},{"o":"E","i":12,"d":6,"v":90},{"o":"E","i":12,"d":10,"v":160},{"o":"E","i":12,"d":14,"v":220},
{"o":"E","i":13,"d":0,"v":0},{"o":"E","i":13,"d":2,"v":-20},{"o":"E","i":13,"d":5,"v":-40},{"o":"E","i":13,"d":9,"v":-55},{"o":"E","i":13,"d":13,"v":-60},
{"o":"E","i":14,"d":0,"v":0},{"o":"E","i":14,"d":3,"v":100},{"o":"E","i":14,"d":6,"v":250},{"o":"E","i":14,"d":9,"v":380},{"o":"E","i":14,"d":11,"v":420}
],
"sG":[
{"o":"D","i":1,"d":0,"v":0},{"o":"D","i":1,"d":2,"v":-20},{"o":"D","i":1,"d":5,"v":-30},{"o":"D","i":1,"d":8,"v":-35},{"o":"D","i":1,"d":11,"v":-40},{"o":"D","i":1,"d":14,"v":-45},
{"o":"D","i":2,"d":0,"v":0},{"o":"D","i":2,"d":2,"v":10},{"o":"D","i":2,"d":5,"v":20},{"o":"D","i":2,"d":8,"v":40},{"o":"D","i":2,"d":11,"v":30},{"o":"D","i":2,"d":14,"v":50},
{"o":"D","i":3,"d":0,"v":0},{"o":"D","i":3,"d":3,"v":30},{"o":"D","i":3,"d":6,"v":60},{"o":"D","i":3,"d":9,"v":100},{"o":"D","i":3,"d":12,"v":140},
{"o":"D","i":4,"d":0,"v":0},{"o":"D","i":4,"d":2,"v":-10},{"o":"D","i":4,"d":4,"v":-20},{"o":"D","i":4,"d":7,"v":-10},{"o":"D","i":4,"d":10,"v":-25},{"o":"D","i":4,"d":14,"v":-30},
{"o":"D","i":5,"d":0,"v":0},{"o":"D","i":5,"d":3,"v":5},{"o":"D","i":5,"d":6,"v":-5},{"o":"D","i":5,"d":9,"v":10},{"o":"D","i":5,"d":12,"v":20},{"o":"D","i":5,"d":15,"v":10},
{"o":"D","i":6,"d":0,"v":0},{"o":"D","i":6,"d":2,"v":-15},{"o":"D","i":6,"d":5,"v":-10},{"o":"D","i":6,"d":8,"v":-20},{"o":"D","i":6,"d":11,"v":-15},{"o":"D","i":6,"d":15,"v":-25},
{"o":"D","i":7,"d":0,"v":0},{"o":"D","i":7,"d":3,"v":40},{"o":"D","i":7,"d":6,"v":90},{"o":"D","i":7,"d":9,"v":120},{"o":"D","i":7,"d":12,"v":100},{"o":"D","i":7,"d":15,"v":80},
{"o":"D","i":8,"d":0,"v":0},{"o":"D","i":8,"d":1,"v":-5},{"o":"D","i":8,"d":4,"v":0},{"o":"D","i":8,"d":7,"v":15},{"o":"D","i":8,"d":10,"v":5},{"o":"D","i":8,"d":13,"v":-10},
{"o":"D","i":9,"d":0,"v":0},{"o":"D","i":9,"d":2,"v":50},{"o":"D","i":9,"d":4,"v":120},{"o":"D","i":9,"d":6,"v":180},
{"o":"D","i":10,"d":0,"v":0},{"o":"D","i":10,"d":2,"v":-25},{"o":"D","i":10,"d":5,"v":-35},{"o":"D","i":10,"d":8,"v":-30},{"o":"D","i":10,"d":11,"v":-45},{"o":"D","i":10,"d":15,"v":-50},
{"o":"D","i":11,"d":0,"v":0},{"o":"D","i":11,"d":2,"v":-30},{"o":"D","i":11,"d":5,"v":-40},{"o":"D","i":11,"d":9,"v":-50},{"o":"D","i":11,"d":13,"v":-55},
{"o":"D","i":12,"d":0,"v":0},{"o":"D","i":12,"d":3,"v":15},{"o":"D","i":12,"d":6,"v":30},{"o":"D","i":12,"d":10,"v":60},{"o":"D","i":12,"d":14,"v":90},
{"o":"D","i":13,"d":0,"v":0},{"o":"D","i":13,"d":2,"v":-5},{"o":"D","i":13,"d":5,"v":-20},{"o":"D","i":13,"d":9,"v":-25},{"o":"D","i":13,"d":13,"v":-20},
{"o":"D","i":14,"d":0,"v":0},{"o":"D","i":14,"d":3,"v":20},{"o":"D","i":14,"d":6,"v":40},{"o":"D","i":14,"d":10,"v":20},{"o":"D","i":14,"d":14,"v":40},
{"o":"E","i":1,"d":0,"v":0},{"o":"E","i":1,"d":2,"v":60},{"o":"E","i":1,"d":4,"v":130},{"o":"E","i":1,"d":6,"v":200},{"o":"E","i":1,"d":8,"v":260},{"o":"E","i":1,"d":10,"v":220},
{"o":"E","i":2,"d":0,"v":0},{"o":"E","i":2,"d":2,"v":-20},{"o":"E","i":2,"d":5,"v":-30},{"o":"E","i":2,"d":8,"v":-40},{"o":"E","i":2,"d":11,"v":-35},{"o":"E","i":2,"d":15,"v":-45},
{"o":"E","i":3,"d":0,"v":0},{"o":"E","i":3,"d":3,"v":80},{"o":"E","i":3,"d":6,"v":160},{"o":"E","i":3,"d":9,"v":220},{"o":"E","i":3,"d":11,"v":240},
{"o":"E","i":4,"d":0,"v":0},{"o":"E","i":4,"d":2,"v":20},{"o":"E","i":4,"d":5,"v":40},{"o":"E","i":4,"d":8,"v":60},{"o":"E","i":4,"d":11,"v":90},{"o":"E","i":4,"d":14,"v":70},
{"o":"E","i":5,"d":0,"v":0},{"o":"E","i":5,"d":1,"v":30},{"o":"E","i":5,"d":3,"v":90},{"o":"E","i":5,"d":5,"v":150},{"o":"E","i":5,"d":7,"v":210},
{"o":"E","i":6,"d":0,"v":0},{"o":"E","i":6,"d":3,"v":-10},{"o":"E","i":6,"d":6,"v":10},{"o":"E","i":6,"d":9,"v":30},{"o":"E","i":6,"d":12,"v":50},{"o":"E","i":6,"d":15,"v":20},
{"o":"E","i":7,"d":0,"v":0},{"o":"E","i":7,"d":4,"v":50},{"o":"E","i":7,"d":7,"v":100},{"o":"E","i":7,"d":10,"v":150},{"o":"E","i":7,"d":13,"v":180},
{"o":"E","i":8,"d":0,"v":0},{"o":"E","i":8,"d":2,"v":10},{"o":"E","i":8,"d":5,"v":30},{"o":"E","i":8,"d":8,"v":20},{"o":"E","i":8,"d":11,"v":60},{"o":"E","i":8,"d":14,"v":110},
{"o":"E","i":9,"d":0,"v":0},{"o":"E","i":9,"d":2,"v":-5},{"o":"E","i":9,"d":5,"v":-15},{"o":"E","i":9,"d":8,"v":-10},{"o":"E","i":9,"d":11,"v":-20},{"o":"E","i":9,"d":14,"v":-30},
{"o":"E","i":10,"d":0,"v":0},{"o":"E","i":10,"d":3,"v":40},{"o":"E","i":10,"d":6,"v":70},{"o":"E","i":10,"d":9,"v":120},{"o":"E","i":10,"d":12,"v":200},{"o":"E","i":10,"d":15,"v":160},
{"o":"E","i":11,"d":0,"v":0},{"o":"E","i":11,"d":2,"v":40},{"o":"E","i":11,"d":4,"v":100},{"o":"E","i":11,"d":7,"v":180},{"o":"E","i":11,"d":10,"v":240},
{"o":"E","i":12,"d":0,"v":0},{"o":"E","i":12,"d":3,"v":20},{"o":"E","i":12,"d":6,"v":60},{"o":"E","i":12,"d":10,"v":110},{"o":"E","i":12,"d":14,"v":140},
{"o":"E","i":13,"d":0,"v":0},{"o":"E","i":13,"d":2,"v":-15},{"o":"E","i":13,"d":5,"v":-25},{"o":"E","i":13,"d":9,"v":-20},{"o":"E","i":13,"d":13,"v":-35},
{"o":"E","i":14,"d":0,"v":0},{"o":"E","i":14,"d":3,"v":60},{"o":"E","i":14,"d":6,"v":130},{"o":"E","i":14,"d":9,"v":200},{"o":"E","i":14,"d":12,"v":230}
],
"mB":[{"o":"D","d":0,"v":0},{"o":"D","d":3,"v":20},{"o":"D","d":6,"v":36},{"o":"D","d":9,"v":47},{"o":"D","d":12,"v":55},{"o":"D","d":15,"v":62},{"o":"E","d":0,"v":0},{"o":"E","d":3,"v":8},{"o":"E","d":6,"v":10},{"o":"E","d":9,"v":7},{"o":"E","d":12,"v":0},{"o":"E","d":15,"v":-10}],
"mC":[{"o":"D","d":0,"v":0},{"o":"D","d":3,"v":1},{"o":"D","d":6,"v":2},{"o":"D","d":9,"v":2.8},{"o":"D","d":12,"v":3.8},{"o":"D","d":15,"v":5},{"o":"E","d":0,"v":0},{"o":"E","d":3,"v":3.5},{"o":"E","d":6,"v":6.5},{"o":"E","d":9,"v":8.5},{"o":"E","d":12,"v":10.5},{"o":"E","d":15,"v":12.5}],
"mD":[{"o":"D","d":0,"v":0},{"o":"D","d":3,"v":2},{"o":"D","d":6,"v":0},{"o":"D","d":9,"v":-2},{"o":"D","d":12,"v":-4},{"o":"D","d":15,"v":-5},{"o":"E","d":0,"v":0},{"o":"E","d":3,"v":30},{"o":"E","d":6,"v":55},{"o":"E","d":9,"v":75},{"o":"E","d":12,"v":90},{"o":"E","d":15,"v":105}],
"mE":[{"o":"D","d":0,"v":0},{"o":"D","d":3,"v":-12},{"o":"D","d":6,"v":-18},{"o":"D","d":9,"v":-22},{"o":"D","d":12,"v":-26},{"o":"D","d":15,"v":-28},{"o":"E","d":0,"v":0},{"o":"E","d":3,"v":30},{"o":"E","d":6,"v":95},{"o":"E","d":9,"v":170},{"o":"E","d":12,"v":270},{"o":"E","d":15,"v":390}],
"mF":[{"o":"D","d":0,"v":0},{"o":"D","d":3,"v":-8},{"o":"D","d":6,"v":-8},{"o":"D","d":9,"v":-10},{"o":"D","d":12,"v":-14},{"o":"D","d":15,"v":-18},{"o":"E","d":0,"v":0},{"o":"E","d":3,"v":20},{"o":"E","d":6,"v":80},{"o":"E","d":9,"v":170},{"o":"E","d":12,"v":280},{"o":"E","d":15,"v":400}],
"mG":[{"o":"D","d":0,"v":0},{"o":"D","d":3,"v":3},{"o":"D","d":6,"v":5},{"o":"D","d":9,"v":8},{"o":"D","d":12,"v":10},{"o":"D","d":15,"v":12},{"o":"E","d":0,"v":0},{"o":"E","d":3,"v":20},{"o":"E","d":6,"v":50},{"o":"E","d":9,"v":90},{"o":"E","d":12,"v":135},{"o":"E","d":15,"v":185}],
"traj":[
{"o":"Discharged","day":1,"x":79.5,"y":247.5,"n":341},{"o":"Discharged","day":2,"x":75.3,"y":249.3,"n":300},{"o":"Discharged","day":3,"x":77.1,"y":267,"n":260},{"o":"Discharged","day":4,"x":79,"y":281,"n":215},{"o":"Discharged","day":5,"x":82,"y":318,"n":173},{"o":"Discharged","day":6,"x":85.5,"y":321,"n":140},{"o":"Discharged","day":7,"x":92.5,"y":330,"n":110},{"o":"Discharged","day":8,"x":97.5,"y":372,"n":88},{"o":"Discharged","day":9,"x":98.5,"y":338,"n":70},{"o":"Discharged","day":10,"x":98.5,"y":331,"n":53},{"o":"Discharged","day":11,"x":90,"y":344,"n":48},{"o":"Discharged","day":12,"x":97,"y":364,"n":45},{"o":"Discharged","day":13,"x":97,"y":386,"n":42},{"o":"Discharged","day":14,"x":101,"y":370,"n":40},{"o":"Discharged","day":15,"x":104.5,"y":379,"n":37},
{"o":"Expired","day":1,"x":83,"y":216,"n":210},{"o":"Expired","day":2,"x":86,"y":217,"n":180},{"o":"Expired","day":3,"x":95,"y":230,"n":150},{"o":"Expired","day":4,"x":100,"y":225,"n":125},{"o":"Expired","day":5,"x":97,"y":233,"n":106},{"o":"Expired","day":6,"x":103.5,"y":240.5,"n":90},{"o":"Expired","day":7,"x":112,"y":228,"n":75},{"o":"Expired","day":8,"x":112.5,"y":246,"n":62},{"o":"Expired","day":9,"x":122.5,"y":242.5,"n":52},{"o":"Expired","day":10,"x":131.5,"y":242.5,"n":45},{"o":"Expired","day":11,"x":128.5,"y":232,"n":38},{"o":"Expired","day":12,"x":122,"y":251,"n":32},{"o":"Expired","day":13,"x":114.7,"y":260,"n":27},{"o":"Expired","day":14,"x":124.3,"y":263,"n":23},{"o":"Expired","day":15,"x":150.6,"y":275.7,"n":20}
],
"leg":[
{"o":"Expired","day":"Day 1","n":210},{"o":"Expired","day":"Day 5","n":106},{"o":"Expired","day":"Day 10","n":45},{"o":"Expired","day":"Day 15","n":20},
{"o":"Discharged","day":"Day 1","n":341},{"o":"Discharged","day":"Day 5","n":173},{"o":"Discharged","day":"Day 10","n":53},{"o":"Discharged","day":"Day 15","n":37}
]
},
"spacing":26,
"resolve":{"scale":{"color":"independent","stroke":"independent","fill":"independent","size":"independent","opacity":"independent","x":"independent","y":"independent"},"legend":{"color":"independent","stroke":"independent","fill":"independent","size":"independent","opacity":"independent"}},
"hconcat":[
{"vconcat":[
 {"width":10,"height":29,"data":{"values":[]},"mark":"point","view":{"fill":null,"stroke":null}},
 {"width":257,"height":365,
  "data":{"name":"freq"},
  "title":{"text":"A","dx":-152,"offset":27},
  "layer":[
   {"transform":[{"filter":"datum.o == 'Expired'"}],"mark":{"type":"rule","strokeWidth":1.5,"opacity":0.75,"color":"#e8703a"},
    "encoding":{
     "y":{"field":"v","type":"nominal","scale":{"domain":["ethnicity: BAME","sex: female","age: 80+","age: 70−80","age: 60−70","age: 50−60","age: 40−50","age: 0−40","hypertension","diabetes","hyperlipidemia","endstage renal disease","coronary artery disease","asthma","CHF","COPD","cerebrovascular disease","chronic kidney disease","cancer","dementia","hepatitis"],"paddingInner":0,"paddingOuter":0.1},
      "axis":{"title":"Variable","labelFontWeight":"bold","labelColor":"#000000","labelFontSize":10.5,"titleFontSize":11,"grid":true,"bandPosition":0.5,"titlePadding":16,"labelPadding":2}},
     "yOffset":{"field":"o","type":"nominal","scale":{"domain":["Expired","Discharged"],"paddingInner":0,"paddingOuter":0.74}},
     "x":{"field":"lo","type":"quantitative","scale":{"domain":[-17.2,105.7],"nice":false,"zero":false},
      "axis":{"values":[0,25,50,75,100],"labelExpr":"datum.value + '%'","title":"Frequency","labelFontWeight":"bold","labelColor":"#000000","labelFontSize":10.5,"titleFontSize":10.5}},
     "x2":{"field":"hi"}
    }},
   {"transform":[{"filter":"datum.o == 'Discharged'"}],"mark":{"type":"rule","strokeWidth":1.5,"opacity":0.75,"color":"#1b9e77"},
    "encoding":{
     "y":{"field":"v","type":"nominal"},
     "yOffset":{"field":"o","type":"nominal"},
     "x":{"field":"lo","type":"quantitative"},
     "x2":{"field":"hi"}
    }},
   {"mark":{"type":"point","filled":true,"size":32,"opacity":1},
    "encoding":{
     "y":{"field":"v","type":"nominal"},
     "yOffset":{"field":"o","type":"nominal"},
     "x":{"field":"f","type":"quantitative"},
     "color":{"field":"o","type":"nominal","scale":{"domain":["Discharged","Expired"],"range":["#1b9e77","#e8703a"]},
      "legend":{"title":"Outcome","orient":"none","legendX":3,"legendY":402,"direction":"horizontal","titleFontSize":10,"titleFontWeight":"normal","titleColor":"#333333","labelFontSize":8,"labelColor":"#333333","symbolSize":30,"symbolType":"circle","columnPadding":12,"labelOffset":5,"titlePadding":5}}
    }},
   {"transform":[{"filter":"datum.s == 1 && datum.o == 'Expired'"}],
    "mark":{"type":"text","text":"*","fontSize":10,"fontWeight":"bold","dy":3,"color":"#000000"},
    "encoding":{"y":{"field":"v","type":"nominal"},"x":{"datum":-9.6}}},
   {"data":{"values":[{}]},"mark":{"type":"rule","strokeDash":[3,3],"color":"#555555","strokeWidth":0.8},
    "encoding":{"y":{"datum":"hypertension","bandPosition":0}}}
  ]}
 ],"spacing":0,"bounds":"flush","resolve":{"scale":{"color":"independent","stroke":"independent"},"legend":{"color":"independent","stroke":"independent"}}},
{"hconcat":[
  {"concat":[
   {"width":137,"height":211,"title":{"text":"B","dx":-31,"dy":8},
    "layer":[
     {"data":{"name":"sB"},"mark":{"type":"line","strokeWidth":0.9,"opacity":0.5},
      "encoding":{"x":{"field":"d","type":"quantitative","scale":{"domain":[-0.75,15.75],"nice":false,"zero":false},"axis":{"values":[0,5,10,15],"title":"Days post admission"}},
       "y":{"field":"v","type":"quantitative","scale":{"domain":[-105,234.1],"nice":false,"zero":false},"axis":{"values":[-100,0,100,200],"labelExpr":"datum.value + '%'","title":null}},
       "detail":[{"field":"o","type":"nominal"},{"field":"i","type":"nominal"}],
       "color":{"field":"o","type":"nominal","scale":{"domain":["D","E"],"range":["#1b9e77","#f4845f"]},"legend":null}}},
     {"data":{"name":"mB"},"mark":{"type":"line","strokeWidth":2,"strokeDash":[6,4],"interpolate":"monotone"},
      "encoding":{"x":{"field":"d","type":"quantitative"},"y":{"field":"v","type":"quantitative"},"stroke":{"field":"o","type":"nominal","scale":{"domain":["D","E"],"range":["#1b9e77","#e8672a"]},"legend":null}}},
     {"data":{"values":[{}]},"mark":{"type":"rect","color":"#d9d9d9"},"encoding":{"x":{"datum":-0.75},"x2":{"datum":15.75},"y":{"datum":210},"y2":{"datum":234.1}}},
     {"data":{"values":[{}]},"mark":{"type":"text","text":"Platelets","fontWeight":"bold","fontSize":9,"color":"#000000"},"encoding":{"x":{"datum":7.5},"y":{"datum":222}}}
    ]},
   {"width":137,"height":211,"title":{"text":"C","dx":-29,"dy":8},
    "layer":[
     {"data":{"name":"sC"},"mark":{"type":"line","strokeWidth":0.9,"opacity":0.5},
      "encoding":{"x":{"field":"d","type":"quantitative","scale":{"domain":[-0.75,15.75],"nice":false,"zero":false},"axis":{"values":[0,5,10,15],"title":"Days post admission"}},
       "y":{"field":"v","type":"quantitative","scale":{"domain":[-17.4,36.64],"nice":false,"zero":false},"axis":{"values":[-10,0,10,20,30],"labelExpr":"format(datum.value, '.1f') + '%'","title":null}},
       "detail":[{"field":"o","type":"nominal"},{"field":"i","type":"nominal"}],
       "color":{"field":"o","type":"nominal","scale":{"domain":["D","E"],"range":["#1b9e77","#f4845f"]},"legend":null}}},
     {"data":{"name":"mC"},"mark":{"type":"line","strokeWidth":2,"strokeDash":[6,4],"interpolate":"monotone"},
      "encoding":{"x":{"field":"d","type":"quantitative"},"y":{"field":"v","type":"quantitative"},"stroke":{"field":"o","type":"nominal","scale":{"domain":["D","E"],"range":["#1b9e77","#e8672a"]},"legend":null}}},
     {"data":{"values":[{}]},"mark":{"type":"rect","color":"#d9d9d9"},"encoding":{"x":{"datum":-0.75},"x2":{"datum":15.75},"y":{"datum":32.8},"y2":{"datum":36.64}}},
     {"data":{"values":[{}]},"mark":{"type":"text","text":"RDW","fontWeight":"bold","fontSize":9,"color":"#000000"},"encoding":{"x":{"datum":7.5},"y":{"datum":34.72}}}
    ]},
   {"width":137,"height":211,"title":{"text":"D","dx":-28,"dy":8},
    "layer":[
     {"data":{"name":"sD"},"mark":{"type":"line","strokeWidth":0.9,"opacity":0.5},
      "encoding":{"x":{"field":"d","type":"quantitative","scale":{"domain":[-0.75,15.75],"nice":false,"zero":false},"axis":{"values":[0,5,10,15],"title":"Days post admission"}},
       "y":{"field":"v","type":"quantitative","scale":{"domain":[-106,270.8],"nice":false,"zero":false},"axis":{"values":[-100,0,100,200],"labelExpr":"datum.value + '%'","title":null}},
       "detail":[{"field":"o","type":"nominal"},{"field":"i","type":"nominal"}],
       "color":{"field":"o","type":"nominal","scale":{"domain":["D","E"],"range":["#1b9e77","#f4845f"]},"legend":null}}},
     {"data":{"name":"mD"},"mark":{"type":"line","strokeWidth":2,"strokeDash":[6,4],"interpolate":"monotone"},
      "encoding":{"x":{"field":"d","type":"quantitative"},"y":{"field":"v","type":"quantitative"},"stroke":{"field":"o","type":"nominal","scale":{"domain":["D","E"],"range":["#1b9e77","#e8672a"]},"legend":null}}},
     {"data":{"values":[{}]},"mark":{"type":"rect","color":"#d9d9d9"},"encoding":{"x":{"datum":-0.75},"x2":{"datum":15.75},"y":{"datum":244},"y2":{"datum":270.8}}},
     {"data":{"values":[{}]},"mark":{"type":"text","text":"WBC","fontWeight":"bold","fontSize":9,"color":"#000000"},"encoding":{"x":{"datum":7.5},"y":{"datum":257.4}}}
    ]},
   {"width":137,"height":211,"title":{"text":"E","dx":-31,"dy":10},
    "layer":[
     {"data":{"name":"sE"},"mark":{"type":"line","strokeWidth":0.9,"opacity":0.5},
      "encoding":{"x":{"field":"d","type":"quantitative","scale":{"domain":[-0.75,15.75],"nice":false,"zero":false},"axis":{"values":[0,5,10,15],"title":"Days post admission"}},
       "y":{"field":"v","type":"quantitative","scale":{"domain":[-116,465.3],"nice":false,"zero":false},"axis":{"values":[-100,0,100,200,300,400],"labelExpr":"datum.value + '%'","title":null}},
       "detail":[{"field":"o","type":"nominal"},{"field":"i","type":"nominal"}],
       "color":{"field":"o","type":"nominal","scale":{"domain":["D","E"],"range":["#1b9e77","#f4845f"]},"legend":null}}},
     {"data":{"name":"mE"},"mark":{"type":"line","strokeWidth":2,"strokeDash":[6,4],"interpolate":"monotone"},
      "encoding":{"x":{"field":"d","type":"quantitative"},"y":{"field":"v","type":"quantitative"},"stroke":{"field":"o","type":"nominal","scale":{"domain":["D","E"],"range":["#1b9e77","#e8672a"]},"legend":null}}},
     {"data":{"values":[{}]},"mark":{"type":"rect","color":"#d9d9d9"},"encoding":{"x":{"datum":-0.75},"x2":{"datum":15.75},"y":{"datum":424},"y2":{"datum":465.3}}},
     {"data":{"values":[{}]},"mark":{"type":"text","text":"BUN","fontWeight":"bold","fontSize":9,"color":"#000000"},"encoding":{"x":{"datum":7.5},"y":{"datum":444.6}}}
    ]},
   {"width":137,"height":211,"title":{"text":"F","dx":-29,"dy":10},
    "layer":[
     {"data":{"name":"sF"},"mark":{"type":"line","strokeWidth":0.9,"opacity":0.5},
      "encoding":{"x":{"field":"d","type":"quantitative","scale":{"domain":[-0.75,15.75],"nice":false,"zero":false},"axis":{"values":[0,5,10,15],"title":"Days post admission"}},
       "y":{"field":"v","type":"quantitative","scale":{"domain":[-119,559.2],"nice":false,"zero":false},"axis":{"values":[-100,0,100,200,300,400],"labelExpr":"datum.value + '%'","title":null}},
       "detail":[{"field":"o","type":"nominal"},{"field":"i","type":"nominal"}],
       "color":{"field":"o","type":"nominal","scale":{"domain":["D","E"],"range":["#1b9e77","#f4845f"]},"legend":null}}},
     {"data":{"name":"mF"},"mark":{"type":"line","strokeWidth":2,"strokeDash":[6,4],"interpolate":"monotone"},
      "encoding":{"x":{"field":"d","type":"quantitative"},"y":{"field":"v","type":"quantitative"},"stroke":{"field":"o","type":"nominal","scale":{"domain":["D","E"],"range":["#1b9e77","#e8672a"]},"legend":null}}},
     {"data":{"values":[{}]},"mark":{"type":"rect","color":"#d9d9d9"},"encoding":{"x":{"datum":-0.75},"x2":{"datum":15.75},"y":{"datum":511},"y2":{"datum":559.2}}},
     {"data":{"values":[{}]},"mark":{"type":"text","text":"Creatinine","fontWeight":"bold","fontSize":9,"color":"#000000"},"encoding":{"x":{"datum":7.5},"y":{"datum":535}}}
    ]},
   {"width":137,"height":211,"title":{"text":"G","dx":-28,"dy":10},
    "layer":[
     {"data":{"name":"sG"},"mark":{"type":"line","strokeWidth":0.9,"opacity":0.5},
      "encoding":{"x":{"field":"d","type":"quantitative","scale":{"domain":[-0.75,15.75],"nice":false,"zero":false},"axis":{"values":[0,5,10,15],"title":"Days post admission"}},
       "y":{"field":"v","type":"quantitative","scale":{"domain":[-101,333.9],"nice":false,"zero":false},"axis":{"values":[-100,0,100,200],"labelExpr":"datum.value + '%'","title":null}},
       "detail":[{"field":"o","type":"nominal"},{"field":"i","type":"nominal"}],
       "color":{"field":"o","type":"nominal","scale":{"domain":["D","E"],"range":["#1b9e77","#f4845f"]},"legend":null}}},
     {"data":{"name":"mG"},"mark":{"type":"line","strokeWidth":2,"strokeDash":[6,4],"interpolate":"monotone"},
      "encoding":{"x":{"field":"d","type":"quantitative"},"y":{"field":"v","type":"quantitative"},"stroke":{"field":"o","type":"nominal","scale":{"domain":["D","E"],"range":["#1b9e77","#e8672a"]},"legend":null}}},
     {"data":{"values":[{}]},"mark":{"type":"rect","color":"#d9d9d9"},"encoding":{"x":{"datum":-0.75},"x2":{"datum":15.75},"y":{"datum":303},"y2":{"datum":333.9}}},
     {"data":{"values":[{}]},"mark":{"type":"text","text":"Alkaline Phosphatase","fontWeight":"bold","fontSize":9,"color":"#000000"},"encoding":{"x":{"datum":7.5},"y":{"datum":318.5}}}
    ]}
  ],"columns":3,"spacing":{"row":36,"column":44},"bounds":"flush","resolve":{"scale":{"color":"independent","stroke":"independent"},"legend":{"color":"independent","stroke":"independent"}}},
 {"vconcat":[
  {"width":10,"height":31,"data":{"values":[]},"mark":"point","view":{"fill":null,"stroke":null}},
  {"width":286,"height":244,
   "data":{"name":"traj"},
   "view":{"fill":"white","stroke":"#999999"},
   "title":{"text":"H","dx":-45,"offset":25},
   "encoding":{
    "x":{"field":"x","type":"quantitative","scale":{"domain":[60,162.5],"nice":false,"zero":false},"axis":{"values":[60,80,100,120,140,160],"title":"Alkaline Phosphatase (IU/L)","grid":false,"labelFontWeight":"bold","labelColor":"#000000","labelFontSize":10,"titleFontSize":12,"tickSize":4}},
    "y":{"field":"y","type":"quantitative","scale":{"domain":[143,400],"nice":false,"zero":false},"axis":{"values":[150,200,250,300,350,400],"title":"PLT (1000/µL)","grid":false,"labelFontWeight":"bold","labelColor":"#000000","labelFontSize":10,"titleFontSize":12,"tickSize":4}}
   },
   "layer":[
    {"transform":[{"filter":"datum.day < 15"}],"mark":{"type":"point","filled":true,"opacity":0.7,"strokeWidth":0},
     "encoding":{"size":{"field":"n","type":"quantitative","scale":{"domain":[0,350],"range":[0,1300]},"legend":null},
      "fill":{"field":"o","type":"nominal","scale":{"domain":["Discharged","Expired"],"range":["#1fb38e","#f08a5a"]},"legend":null}}},
    {"mark":{"type":"line","strokeWidth":1.2},
     "encoding":{"color":{"field":"o","type":"nominal","scale":{"domain":["Discharged","Expired"],"range":["#179a74","#f07a50"]},"legend":null},"order":{"field":"day","type":"quantitative"}}},
    {"transform":[{"filter":"datum.day == 15"}],"mark":{"type":"point","filled":true,"size":120,"opacity":1},
     "encoding":{"color":{"field":"o","type":"nominal","legend":null}}},
    {"transform":[{"filter":"datum.day == 1 && datum.o == 'Discharged'"}],"mark":{"type":"text","text":"Day 1","align":"left","baseline":"middle","dx":20,"dy":-8,"fontWeight":"bold","fontSize":9,"color":"#000000"}},
    {"transform":[{"filter":"datum.day == 1 && datum.o == 'Expired'"}],"mark":{"type":"text","text":"Day 1","align":"left","baseline":"middle","dx":18,"dy":12,"fontWeight":"bold","fontSize":9,"color":"#000000"}},
    {"transform":[{"filter":"datum.day == 15 && datum.o == 'Discharged'"}],"mark":{"type":"text","text":"Day 15","align":"left","baseline":"middle","dx":9,"dy":0,"fontWeight":"bold","fontSize":9,"color":"#000000"}},
    {"transform":[{"filter":"datum.day == 15 && datum.o == 'Expired'"}],"mark":{"type":"text","text":"Day 15","align":"left","baseline":"middle","dx":0,"dy":11,"fontWeight":"bold","fontSize":9,"color":"#000000"}}
   ]},
  {"width":10,"height":43,"data":{"values":[]},"mark":"point","view":{"fill":null,"stroke":null}},
  {"width":206,"height":113,
   "data":{"name":"leg"},
   "view":{"fill":"white","stroke":"#777777"},
   "encoding":{
    "x":{"field":"day","type":"nominal","scale":{"type":"band","domain":["Day 1","Day 5","Day 10","Day 15"],"paddingInner":0,"paddingOuter":1.48,"align":0.379},"axis":null},
    "y":{"field":"o","type":"nominal","scale":{"type":"band","domain":["Expired","Discharged"],"paddingInner":0.265,"paddingOuter":0.286,"align":0},"axis":null}
   },
   "layer":[
    {"mark":{"type":"point","filled":true,"strokeWidth":0},
     "encoding":{"size":{"field":"n","type":"quantitative","scale":{"domain":[0,350],"range":[0,910]},"legend":null},
      "color":{"field":"o","type":"nominal","scale":{"domain":["Expired","Discharged"],"range":["#f26522","#0b9467"]},"legend":null},
      "opacity":{"field":"day","type":"ordinal","scale":{"domain":["Day 1","Day 5","Day 10","Day 15"],"range":[1,0.97,0.9,0.6]},"legend":null}}},
    {"mark":{"type":"text","dy":21,"fontWeight":"bold","fontSize":10,"color":"#222222"},"encoding":{"text":{"field":"n","type":"quantitative"}}},
    {"transform":[{"filter":"datum.day == 'Day 1'"}],"mark":{"type":"text","text":"N=","dx":-35,"dy":21,"fontSize":9,"color":"#222222"}},
    {"transform":[{"filter":"datum.day == 'Day 15'"}],"mark":{"type":"text","dx":17,"align":"left","fontWeight":"bold","fontSize":10,"color":"#222222"},"encoding":{"text":{"field":"o","type":"nominal"}}},
    {"transform":[{"filter":"datum.o == 'Discharged'"}],"mark":{"type":"text","dy":39,"fontWeight":"bold","fontSize":9,"color":"#222222"},"encoding":{"text":{"field":"day","type":"nominal"}}},
    {"transform":[{"filter":"datum.day == 'Day 1'"}],"mark":{"type":"line","opacity":0},
     "encoding":{"stroke":{"field":"o","type":"nominal","scale":{"domain":["Discharged","Expired"],"range":["#1b9e77","#e8672a"]},
      "legend":{"title":"Outcome","orient":"none","legendX":33,"legendY":120,"titleOrient":"left","titleAnchor":"start","titleFontSize":17,"titleFontWeight":"normal","titleColor":"#000000","labelFontSize":14,"labelColor":"#000000","symbolType":"stroke","symbolDash":[5,3],"symbolStrokeWidth":2,"symbolSize":300,"symbolOpacity":1,"rowPadding":6,"titlePadding":25,"labelOffset":8}}}}
   ]}
 ],"spacing":0,"bounds":"flush","resolve":{"scale":{"color":"independent","size":"independent","opacity":"independent","fill":"independent","stroke":"independent"},"legend":{"color":"independent","size":"independent","stroke":"independent"}}}
],"spacing":20,"resolve":{"scale":{"color":"independent","stroke":"independent","fill":"independent","size":"independent","opacity":"independent"},"legend":{"color":"independent","stroke":"independent","fill":"independent","size":"independent","opacity":"independent"}}}
]
}
